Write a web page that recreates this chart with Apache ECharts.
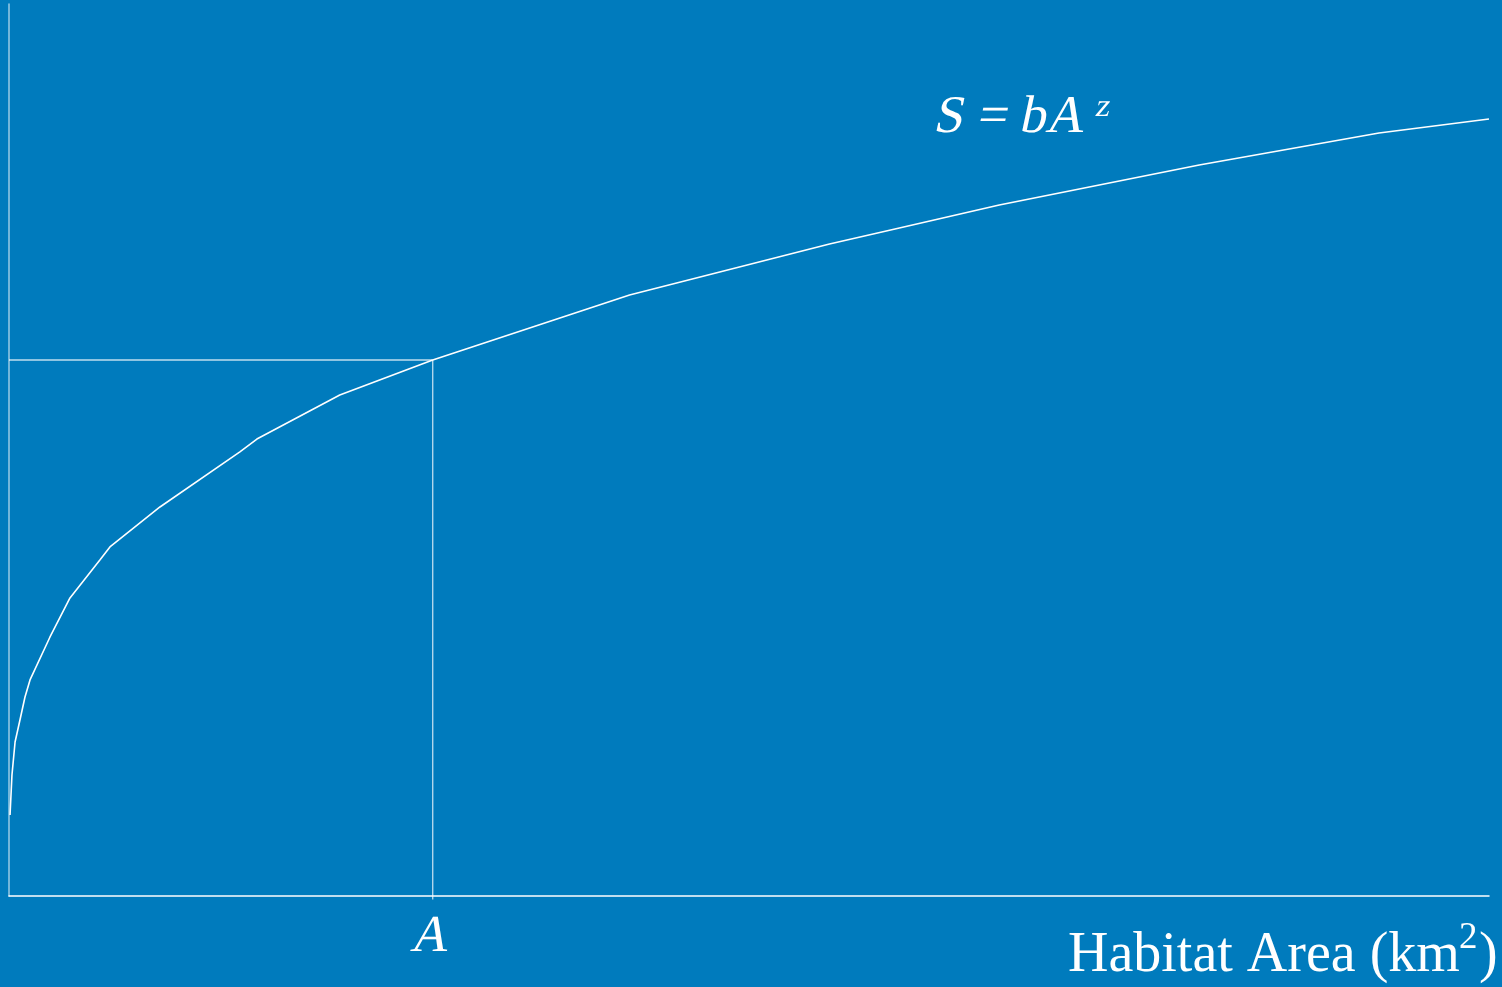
<!DOCTYPE html>
<html>
<head>
<meta charset="utf-8">
<script src="https://cdn.jsdelivr.net/npm/echarts@6/dist/echarts.min.js"></script>
<style>
html,body{margin:0;padding:0;background:#007BBD;}
#chart{width:1502px;height:987px;}
</style>
</head>
<body>
<div id="chart"></div>
<script>
// Habitat area (relative units, 0-100) and species count S (relative units, 0-100)
const areaValues = [0.07, 0.2, 0.41, 0.74, 1.08, 1.42, 2.77, 4.12, 6.14, 6.82, 10.2, 15.6, 16.75, 22.35, 28.63, 41.93, 55.44, 60.16, 66.91, 80.42, 92.57, 100];
const speciesValues = [9.08, 13.57, 17.26, 19.73, 22.31, 24.22, 29.04, 33.41, 37.67, 39.13, 43.61, 49.78, 51.23, 56.17, 60.09, 67.38, 73.09, 74.89, 77.47, 81.96, 85.54, 87.11];
// Marked area A and its species value
const markedArea = 28.63;
const markedSpecies = 60.09;

const chart = echarts.init(document.getElementById('chart'), null, {renderer: 'canvas'});
const curve = areaValues.map((a, i) => [a, speciesValues[i]]);

const serif = 'Liberation Serif';
const refColor = 'rgba(255,255,255,0.75)';
const slant = -0.21;

function txt(left, top, text, size, opts) {
  opts = opts || {};
  const el = {type: 'text', left: left, top: top, silent: true,
    style: {text: text, fill: '#ffffff', fontFamily: opts.family || serif, fontSize: size,
      fontStyle: 'normal', fontWeight: 'normal'}};
  if (opts.skew) { el.skewX = opts.skew; }
  return el;
}

chart.setOption({
  backgroundColor: '#007BBD',
  animation: false,
  grid: {left: 9, right: 13, top: 4, bottom: 91},
  xAxis: {
    type: 'value', min: 0, max: 100,
    axisLine: {show: true, lineStyle: {color: '#ffffff', width: 1.5}},
    axisTick: {show: false}, axisLabel: {show: false}, splitLine: {show: false}
  },
  yAxis: {
    type: 'value', min: 0, max: 100,
    axisLine: {show: true, lineStyle: {color: 'rgba(255,255,255,0.6)', width: 1.5}},
    axisTick: {show: false}, axisLabel: {show: false}, splitLine: {show: false}
  },
  series: [
    {
      type: 'line',
      data: [[0, markedSpecies], [markedArea, markedSpecies]],
      showSymbol: false, silent: true, clip: false,
      lineStyle: {color: refColor, width: 1.3}
    },
    {
      type: 'line',
      data: [[markedArea, markedSpecies], [markedArea, -0.4]],
      showSymbol: false, silent: true, clip: false,
      lineStyle: {color: refColor, width: 1.3}
    },
    {
      type: 'line',
      data: curve,
      showSymbol: false,
      smooth: false,
      clip: false,
      lineStyle: {color: '#ffffff', width: 1.6}
    }
  ],
  graphic: [
    txt(930, 92, 'S = bA', 53, {skew: slant}),
    txt(1093, 92, 'z', 32, {skew: slant}),
    txt(407, 911, 'A', 52, {skew: slant}),
    txt(1068, 928, 'Habitat Area (km', 56),
    txt(1459, 920, '2', 37),
    txt(1479, 928, ')', 56)
  ]
});
</script>
</body>
</html>
